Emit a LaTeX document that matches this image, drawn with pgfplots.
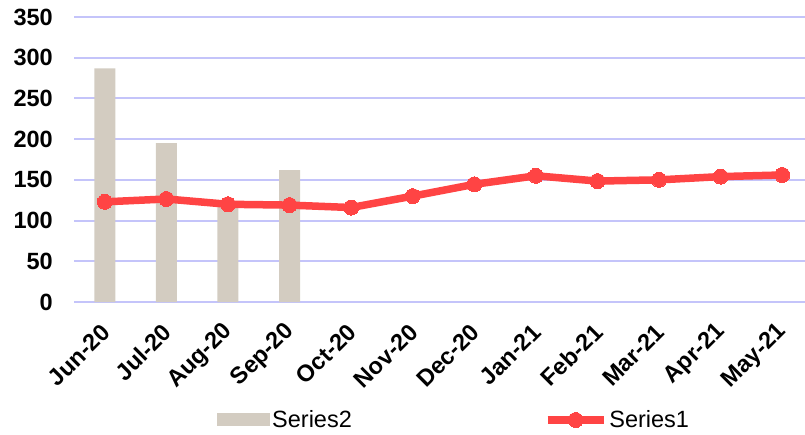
\documentclass[border=0pt]{standalone}
\usepackage{pgfplots}
\pgfplotsset{compat=1.18}
\usepackage{fontspec}
\setmainfont{Liberation Sans}
\definecolor{barc}{HTML}{D3CCC1}
\definecolor{linec}{HTML}{FF4444}
\definecolor{gridc}{HTML}{C4C4FA}
\begin{document}
\begin{tikzpicture}[x=1pt,y=1pt]
\useasboundingbox (0,0) rectangle (805,434);
\begin{axis}[
  at={(74pt,132pt)}, anchor=south west,
  scale only axis, width=731pt, height=285pt,
  xmin=-0.5, xmax=11.37, ymin=0, ymax=350,
  ytick={0,50,...,350},
  xtick={0,...,11},
  xticklabels={Jun-20,Jul-20,Aug-20,Sep-20,Oct-20,Nov-20,Dec-20,Jan-21,Feb-21,Mar-21,Apr-21,May-21},
  axis line style={draw=none},
  major tick style={draw=none},
  ymajorgrids, grid style={gridc, line width=2pt},
  clip=false,
  /pgf/number format/assume math mode=true,
  yticklabel style={font=\bfseries\fontsize{23.5}{23.5}\selectfont, anchor=east, inner sep=0pt, xshift=-21pt},
  xticklabel style={font=\bfseries\fontsize{23.5}{23.5}\selectfont, inner sep=0pt, xshift=1pt, yshift=-26pt, rotate=45, anchor=east},
  legend columns=2,
  legend style={at={(0.1956,-0.414)}, anchor=west, draw=none, fill=none, inner sep=0pt,
    font=\fontsize{23.5}{23.5}\selectfont,
    nodes={inner sep=2pt},
    /tikz/every even column/.append style={column sep=190pt}},
]
\addplot[ybar, bar width=21pt, fill=barc, draw=none,
  legend image code/.code={\fill[barc] (0pt,-6.5pt) rectangle (53pt,6.5pt);}]
  coordinates {(0,287) (1,195) (2,120) (3,162)};
\addlegendentry{Series2}
\addplot[linec, line width=7.5pt, mark=*, mark size=7.5pt, mark options={fill=linec, draw=linec, line width=0pt},
  legend image code/.code={\draw[linec, line width=7.5pt, mark=*, mark size=7.5pt, mark options={fill=linec, draw=linec, line width=0pt}, mark repeat=2, mark phase=2] plot coordinates {(0pt,0pt) (28pt,0pt) (56pt,0pt)};}]
  coordinates {(0,123) (1,126.5) (2,120) (3,119) (4,116) (5,130) (6,144.5) (7,155) (8,148.5) (9,150) (10,154) (11,156)};
\addlegendentry{Series1}
\end{axis}
\end{tikzpicture}
\end{document}
